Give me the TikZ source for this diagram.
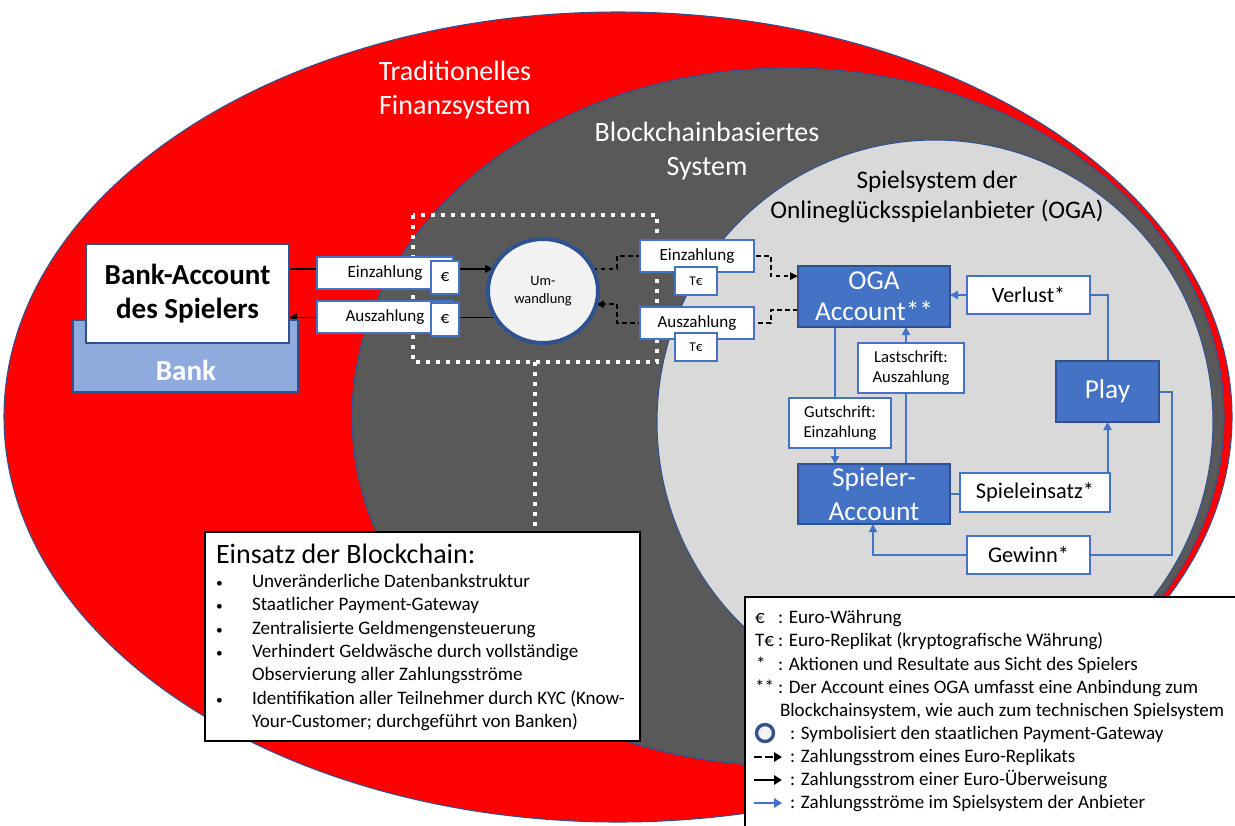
\documentclass[tikz,border=0pt]{standalone}
\usepackage{fontspec}
\setmainfont{Carlito}
\usetikzlibrary{arrows.meta,shapes.geometric}
\definecolor{pred}{HTML}{FF0000}
\definecolor{dgrey}{HTML}{595959}
\definecolor{lgrey}{HTML}{D9D9D9}
\definecolor{ol}{HTML}{2F528F}
\definecolor{bl}{HTML}{4472C4}
\definecolor{bankc}{HTML}{8FAADC}
\definecolor{circf}{HTML}{F2F2F2}
\pgfdeclarelayer{shapes}
\pgfdeclarelayer{edges}
\pgfsetlayers{shapes,edges,main}
\newcommand{\mybox}[7]{\node[#6, minimum width={(#4-#2)*0.75pt}, minimum height={(#5-#3)*0.75pt}] (#1) at ({(#2+#4)/2},{(#3+#5)/2}) {#7};}
\newcommand{\fz}[2]{\fontsize{#1pt}{#2pt}\selectfont}
\newcommand{\smallbullet}{{\fontsize{10pt}{10pt}\selectfont\textbullet}}
\begin{document}
\begin{tikzpicture}[x=0.75pt,y=-0.75pt,
  every node/.style={inner sep=0pt, outer sep=0pt},
  wbox/.style={draw=bl, line width=0.8pt, fill=white, align=center, text=black},
  bbox/.style={draw=ol, line width=1.2pt, fill=bl, text=white, align=center},
  kbox/.style={draw=black, line width=0.8pt, fill=white},
  shell/.style={draw=ol, line width=0.8pt},
  eurarrow/.style={draw=black, line width=1.2pt, -{Triangle[length=6pt,width=5.5pt]}},
  tokarrow/.style={draw=black, line width=1.2pt, dash pattern=on 3.5pt off 2.5pt, -{Triangle[length=6pt,width=5.5pt]}},
  bluearrow/.style={draw=bl, line width=1.5pt, -{Triangle[length=6pt,width=6pt]}},
  dotwhite/.style={draw=white, line width=3pt, dash pattern=on 3pt off 4.5pt},
  lgtext/.style={anchor=base west, font=\fz{14.3}{16}},
]
\useasboundingbox (0,0) rectangle (1235,825);
\clip (0,0) rectangle (1235,825);

\begin{pgfonlayer}{shapes}
  \fill[white] (0,0) rectangle (1235,825);
  \path[shell, fill=pred] (618,417) ellipse [x radius=614, y radius=405];
  \path[shell, fill=dgrey] (788,417) ellipse [x radius=436, y radius=349];
  \path[shell, fill=lgrey] (935,422) ellipse [x radius=278, y radius=282];
\end{pgfonlayer}

% region titles
\node[text=white, align=center, font=\fz{21}{25.5}] (tfin) at (455,90) {Traditionelles\\Finanzsystem};
\node[text=white, align=center, font=\fz{21}{26}] (tbc) at (707,151) {Blockchainbasiertes\\System};
\node[text=black, align=center, font=\fz{19}{23}] (toga) at (937,197) {Spielsystem der\\Onlineglücksspielanbieter (OGA)};

% bank
\mybox{bank}{73}{320}{298}{392}{draw=ol, line width=1.2pt, fill=bankc}{}
\node[text=white, font=\bfseries\fz{21.8}{24}] (banklabel) at (186,370) {Bank};
\mybox{bankacc}{86}{244}{289}{343}{draw=ol, line width=1.2pt, fill=white, align=center, font=\bfseries\fz{21.8}{25.5}}{Bank-Account\\des Spielers}

% euro boxes
\mybox{ein1}{317}{257}{453}{289}{wbox, font=\fz{12.8}{15}}{Einzahlung}
\mybox{eur1}{431}{261}{459}{294}{wbox, font=\fz{12.8}{15}}{€}
\mybox{aus1}{317}{301}{453}{333}{wbox, font=\fz{12.8}{15}}{Auszahlung}
\mybox{eur2}{431}{303}{459}{336}{wbox, font=\fz{12.8}{15}}{€}

% gateway
\node[ellipse, draw=ol, line width=3pt, fill=circf, minimum width=110*0.75pt, minimum height=104*0.75pt, align=center, font=\fz{10.8}{14}] (umw) at (543,291) {Um-\\wandlung};

% token boxes
\mybox{einT}{640}{240}{754}{272}{wbox, font=\fz{12.8}{15}}{Einzahlung}
\mybox{teur1}{675}{267}{717}{295}{wbox, font=\fz{10}{12}}{T€}
\mybox{ausT}{640}{307}{754}{339}{wbox, font=\fz{12.8}{15}}{Auszahlung}
\mybox{teur2}{675}{333}{717}{361}{wbox, font=\fz{10}{12}}{T€}

% game system
\mybox{oga}{798}{266}{950}{327}{bbox, font=\fz{20.5}{23}}{OGA\\Account**}
\mybox{verlust}{967}{276}{1090}{314}{wbox, font=\fz{16.5}{19}}{Verlust*}
\mybox{last}{858}{343}{964}{393}{wbox, font=\fz{12.5}{14.5}}{Lastschrift:\\Auszahlung}
\mybox{gut}{789}{398}{891}{448}{wbox, font=\fz{12.5}{14.5}}{Gutschrift:\\Einzahlung}
\mybox{spieler}{798}{464}{950}{524}{bbox, font=\fz{20.5}{26}}{Spieler-\\Account}
\mybox{play}{1056}{361}{1159}{422}{bbox, font=\fz{20.5}{24}}{Play}
\mybox{einsatz}{960}{473}{1110}{512}{wbox, font=\fz{16.8}{19}}{Spieleinsatz*}
\mybox{gewinn}{967}{536}{1090}{574}{wbox, font=\fz{16.8}{19}}{Gewinn*}

% blockchain box
\mybox{bc}{205}{532}{640}{741}{kbox}{}
\node[anchor=base west, font=\fz{21}{24}] (bctitle) at (216,563) {Einsatz der Blockchain:};
\node[anchor=north west, align=left, font=\fz{14.3}{17.5}] (bclist) at (216,571) {%
\begin{tabular}{@{}p{27pt}@{}l@{}}
\smallbullet & Unveränderliche Datenbankstruktur\\
\smallbullet & Staatlicher Payment-Gateway\\
\smallbullet & Zentralisierte Geldmengensteuerung\\
\smallbullet & Verhindert Geldwäsche durch vollständige\\
 & Observierung aller Zahlungsströme\\
\smallbullet & Identifikation aller Teilnehmer durch KYC (Know-\\
 & Your-Customer; durchgeführt von Banken)
\end{tabular}};

% legend
\mybox{legend}{745}{597}{1245}{835}{kbox}{}
\node[lgtext] (s1) at (755,623) {€};
\node[lgtext] (l1) at (778,623) {: Euro-Währung};
\node[lgtext] (s2) at (755,646) {T€};
\node[lgtext] (l2) at (778,646) {: Euro-Replikat (kryptografische Währung)};
\node[lgtext] (s3) at (756,670) {*};
\node[lgtext] (l3) at (778,670) {: Aktionen und Resultate aus Sicht des Spielers};
\node[lgtext] (s4) at (755,693) {**};
\node[lgtext] (l4) at (778,693) {: Der Account eines OGA umfasst eine Anbindung zum};
\node[lgtext] (l5) at (780,716) {Blockchainsystem, wie auch zum technischen Spielsystem};
\node[circle, draw=ol, line width=2.5pt, fill=circf, minimum size=17*0.75pt] (s6) at (765,733) {};
\node[lgtext] (l6) at (790,739) {: Symbolisiert den staatlichen Payment-Gateway};
\node[lgtext] (l7) at (790,762) {: Zahlungsstrom eines Euro-Replikats};
\node[lgtext] (l8) at (790,785) {: Zahlungsstrom einer Euro-Überweisung};
\node[lgtext] (l9) at (790,808) {: Zahlungsströme im Spielsystem der Anbieter};
\coordinate (a7) at (754,757); \coordinate (b7) at (782,757);
\coordinate (a8) at (754,780); \coordinate (b8) at (782,780);
\coordinate (a9) at (754,803); \coordinate (b9) at (782,803);

% helper coordinates
\coordinate (jL) at (617,0);
\coordinate (jR) at (771,0);
\coordinate (xG) at (835,0);
\coordinate (xL) at (906,0);
\coordinate (xW) at (1172,0);
\coordinate (xS) at (873,0);
\coordinate (dotb) at (535,362);

\begin{pgfonlayer}{edges}
  \draw[dotwhite] (413,215) rectangle (657,362);
  \draw[dotwhite] (dotb) -- (dotb |- bc.north);
  \draw[eurarrow] (bankacc.east |- umw.156) -- (umw.156);
  \draw[eurarrow] (umw.209) -- (bankacc.east |- umw.209);
  \draw[tokarrow] (umw.24) -| (jL |- einT.center) -- (jR |- einT.center) |- (oga.165);
  \draw[tokarrow] (oga.190) -| (jR |- ausT.center) -- (jL |- ausT.center) |- (umw.346);
  \draw[bluearrow] (play.north) |- (oga.east |- verlust.center);
  \draw[bluearrow] (oga.south -| xG) -- (spieler.north -| xG);
  \draw[bluearrow] (spieler.north -| xL) -- (oga.south -| xL);
  \draw[bluearrow] (spieler.east) -| (play.south);
  \draw[bluearrow] (play.east) -| (xW |- gewinn.center) -| (spieler.south -| xS);
\end{pgfonlayer}
\draw[draw=black, line width=2.2pt, dash pattern=on 6pt off 2.5pt, -{Triangle[length=6pt,width=7pt]}] (a7) -- (b7);
\draw[draw=black, line width=2.2pt, -{Triangle[length=6pt,width=7pt]}] (a8) -- (b8);
\draw[draw=bl, line width=2.2pt, -{Triangle[length=6pt,width=7pt]}] (a9) -- (b9);
\end{tikzpicture}
\end{document}
